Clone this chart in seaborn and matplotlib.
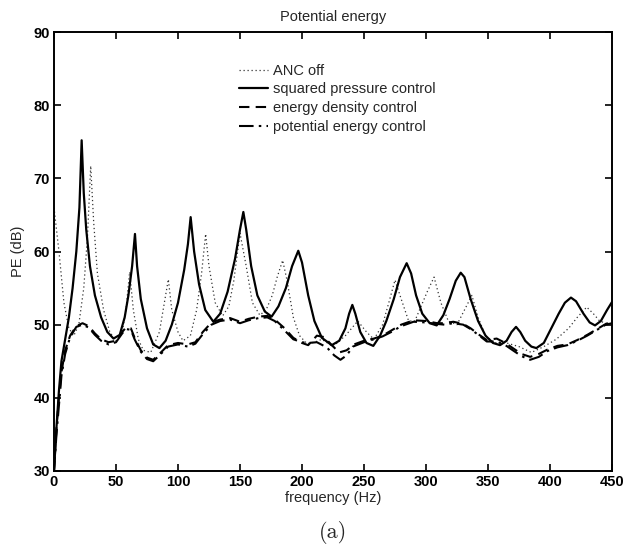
import numpy as np
import pandas as pd
import matplotlib
matplotlib.use("Agg")
import matplotlib.pyplot as plt
from matplotlib.lines import Line2D
import seaborn as sns

# ANC off
off_f = [0, 4, 8, 12, 16, 20, 24, 27, 29.6, 32, 35, 40, 45, 50, 55, 58, 61, 64, 68,
         72, 78, 85, 89, 92.2, 95, 100, 104, 110, 115, 119, 122.3, 125, 130, 136,
         141, 145, 150, 155, 160, 166, 171, 176, 180, 184.4, 188, 193, 198, 204,
         210, 216, 225, 235, 245, 252, 258, 265, 270, 275, 280, 286, 291, 296, 301,
         306.5, 312, 318, 325, 331, 337, 342, 348, 355, 365, 375, 385, 395, 405,
         415, 422, 429.6, 435, 440, 445, 450]
off_pe = [66, 60, 53, 49.5, 48.5, 50, 55, 62, 71.7, 64, 57, 52, 49, 47.8, 49, 52, 57.2, 52, 48,
          46.5, 46.2, 49, 53, 56.2, 52, 49, 47.8, 48.5, 52, 57, 62.4, 58, 53, 51.2,
          52.5, 56, 62.5, 58, 53, 51.3, 52, 54, 56.5, 58.8, 56, 51, 48.5, 47.4,
          47.6, 48, 47, 48.5, 50.5, 49, 48, 50, 53, 56.1, 53.5, 50.5, 50.5, 52.5, 54.5,
          56.5, 53, 50.5, 50, 52, 54, 51, 48.5, 47.5, 47.5, 47, 46.2, 47, 48,
          49.5, 51, 52.4, 51.5, 50.5, 50.2, 50]

# squared pressure control
sq_f = [0, 2, 4, 6, 9, 12, 15, 18, 20.5, 22.3, 24, 26, 29, 33, 38, 43, 48, 53, 57,
        60, 63, 65.3, 67, 70, 75, 80, 85, 90, 95, 100, 105, 108, 110.2, 113, 117,
        122, 128.5, 134, 140, 146, 150, 152.7, 155, 159, 164, 170, 175.5, 181,
        187, 192, 197, 200, 205, 210, 216, 224, 230, 235, 238, 240.6, 243, 247,
        252, 257.5, 263, 268, 274, 279, 284.4, 288, 292, 297, 303, 308.6, 314,
        319, 324, 328, 331, 336, 342, 348, 354, 359.7, 365, 369, 372.6, 376, 380,
        385, 389, 395, 401, 407, 412, 416.9, 421, 427, 432, 436.3, 441, 446, 450]
sq_pe = [30, 36, 41, 45, 48, 51, 55, 60, 66, 75.2, 68, 63, 58, 54, 51, 49, 48.1, 48.6, 51,
         54, 58, 62.4, 58, 53.5, 49.5, 47.3, 46.8, 47.8, 50, 53, 57.5, 61, 64.7, 60, 55.5,
         52, 50.4, 51.5, 54.5, 59, 63, 65.4, 63, 58, 54, 51.8, 51.1, 52.5,
         55, 58, 60.1, 58.5, 54, 50.5, 48.2, 47.2, 47.8, 49.5, 51.5, 52.7, 51.5, 49,
         47.5, 47.1, 48.5, 50.5, 53.5, 56.5, 58.4, 57, 54, 51.5, 50.2, 49.9, 51.3,
         53.5, 56, 57.1, 56.5, 53.5, 50.5, 48.5, 47.5, 47.2, 47.8, 49, 49.7, 49, 47.8,
         47, 46.8, 47.5, 49.5, 51.5, 53, 53.7, 53.2, 51.5, 50.3, 49.9, 50.5, 52, 53.1]

# energy density control
ed_f = [0, 2, 4, 6, 9, 13, 18, 23, 28, 33, 38, 44, 50, 55, 58, 62, 65, 70, 75, 80,
        85, 92, 100, 108, 114, 120, 127, 134, 142, 150, 157, 165, 172, 178, 186,
        193, 200, 205, 212, 218, 224, 230, 236, 242, 250, 258, 265, 272, 280, 290,
        300, 309, 315, 322, 330, 336, 343, 349, 357, 364, 370, 377, 384, 391, 398,
        406, 414, 422, 430, 438, 445, 450]
ed_pe = [30, 36, 40, 43.5, 46.5, 48.5, 49.8, 50.2, 49.8, 48.8, 48, 47.6, 47.8, 49, 49.6,
         49.5, 48.2, 46.5, 45.5, 45.2, 46, 47.2, 47.5, 47.3, 47.6, 49, 50.3, 50.7, 50.9,
         50.4, 50.8, 51.1, 51.2, 50.7, 49.5, 48.2, 47.5, 47.2, 48.5, 48.3, 47.2, 46.2,
         46.5, 47.3, 47.8, 48.1, 48.5, 49.2, 50, 50.6, 50.5, 50.2, 50.2, 50.4, 50.1,
         49.5, 48.6, 47.9, 48.1, 47.5, 46.8, 46, 45.6, 46, 46.6, 47.1, 47.3, 47.9,
         48.6, 49.4, 50.1, 50.3]

# potential energy control
pe_f = [0, 2, 4, 6, 9, 13, 18, 23, 28, 33, 38, 44, 50, 55, 58, 62, 65, 70, 75, 80,
        85, 92, 100, 108, 114, 120, 127, 134, 142, 150, 157, 165, 172, 178, 186,
        193, 200, 205, 212, 220, 226, 231, 236, 241, 250, 258, 265, 272, 280, 290,
        300, 309, 315, 322, 330, 336, 343, 349, 357, 364, 370, 377, 384, 391, 398,
        406, 414, 422, 430, 438, 445, 450]
pe_pe = [30, 35, 39, 43, 46, 48.3, 49.7, 50, 49.6, 48.6, 47.8, 47.3, 47.6, 48.8, 49.4,
         49.3, 48, 46.3, 45.3, 45, 45.8, 47, 47.3, 47, 47.4, 48.7, 50, 50.5, 50.7,
         50.2, 50.6, 50.9, 51, 50.5, 49.2, 48, 47.6, 47.5, 47.6, 46.9, 45.8, 45.2,
         45.8, 47, 47.6, 48, 48.4, 49, 49.8, 50.4, 50.3, 50.1, 50, 50.2, 50, 49.4,
         48.5, 47.7, 47.7, 47.2, 46.5, 45.7, 45.2, 45.6, 46.4, 46.9, 47.2, 47.8,
         48.5, 49.3, 50, 50.2]

labels = ["ANC off", "squared pressure control", "energy density control",
          "potential energy control"]

frames = []
for name, f, v in zip(labels, [off_f, sq_f, ed_f, pe_f], [off_pe, sq_pe, ed_pe, pe_pe]):
    frames.append(pd.DataFrame({"frequency": f, "PE": v, "series": name}))
df = pd.concat(frames, ignore_index=True)

sns.set_theme(style="ticks")
plt.rcParams["font.family"] = ["Liberation Sans", "DejaVu Sans"]

fig = plt.figure(figsize=(6.34, 5.48), dpi=100)
ax = fig.add_axes([54 / 634, 1 - 471 / 548, 558 / 634, 439 / 548])

dash_map = {
    "ANC off": (1, 2.2),
    "squared pressure control": "",
    "energy density control": (5, 3),
    "potential energy control": (7, 2.5, 1.2, 2.5),
}
width_map = {
    "ANC off": 0.9,
    "squared pressure control": 1.6,
    "energy density control": 1.5,
    "potential energy control": 1.5,
}
color_map = {
    "ANC off": "#333333",
    "squared pressure control": "black",
    "energy density control": "black",
    "potential energy control": "black",
}

for name in labels:
    sub = df[df["series"] == name]
    sns.lineplot(data=sub, x="frequency", y="PE", ax=ax, color=color_map[name],
                 linewidth=width_map[name], dashes=False, sort=False,
                 estimator=None, legend=False)
    ln = ax.lines[-1]
    if dash_map[name]:
        ln.set_dashes(dash_map[name])

ax.set_xlim(0, 450)
ax.set_ylim(30, 90)
ax.set_xticks(np.arange(0, 451, 50))
ax.set_yticks(np.arange(30, 91, 10))
ax.tick_params(direction="in", length=5, width=1.2, top=True, right=True,
               labelsize=10.5, pad=3, colors="black")
for lab in ax.get_xticklabels() + ax.get_yticklabels():
    lab.set_fontweight("bold")
for sp in ax.spines.values():
    sp.set_linewidth(1.4)
    sp.set_color("black")

ax.set_xlabel("frequency (Hz)", fontsize=10.5, labelpad=1)
ax.set_ylabel("PE (dB)", fontsize=10.5, labelpad=6)
ax.set_title("Potential energy", fontsize=10.5, pad=8)

handles = [Line2D([], [], color=color_map[n], linewidth=width_map[n],
                  dashes=dash_map[n] if dash_map[n] else (None, None))
           for n in labels]
ax.legend(handles, labels, loc="upper left", bbox_to_anchor=(0.3315, 0.928),
          frameon=False, fontsize=10.5, handlelength=2.0, handletextpad=0.35,
          labelspacing=0.33, borderpad=0, borderaxespad=0)

fig.text(333 / 634, 1 - 532 / 548, "(a)", ha="center", va="center",
         fontsize=16, family=["cmr10", "DejaVu Serif"])

fig.savefig("out.png", dpi=100)
